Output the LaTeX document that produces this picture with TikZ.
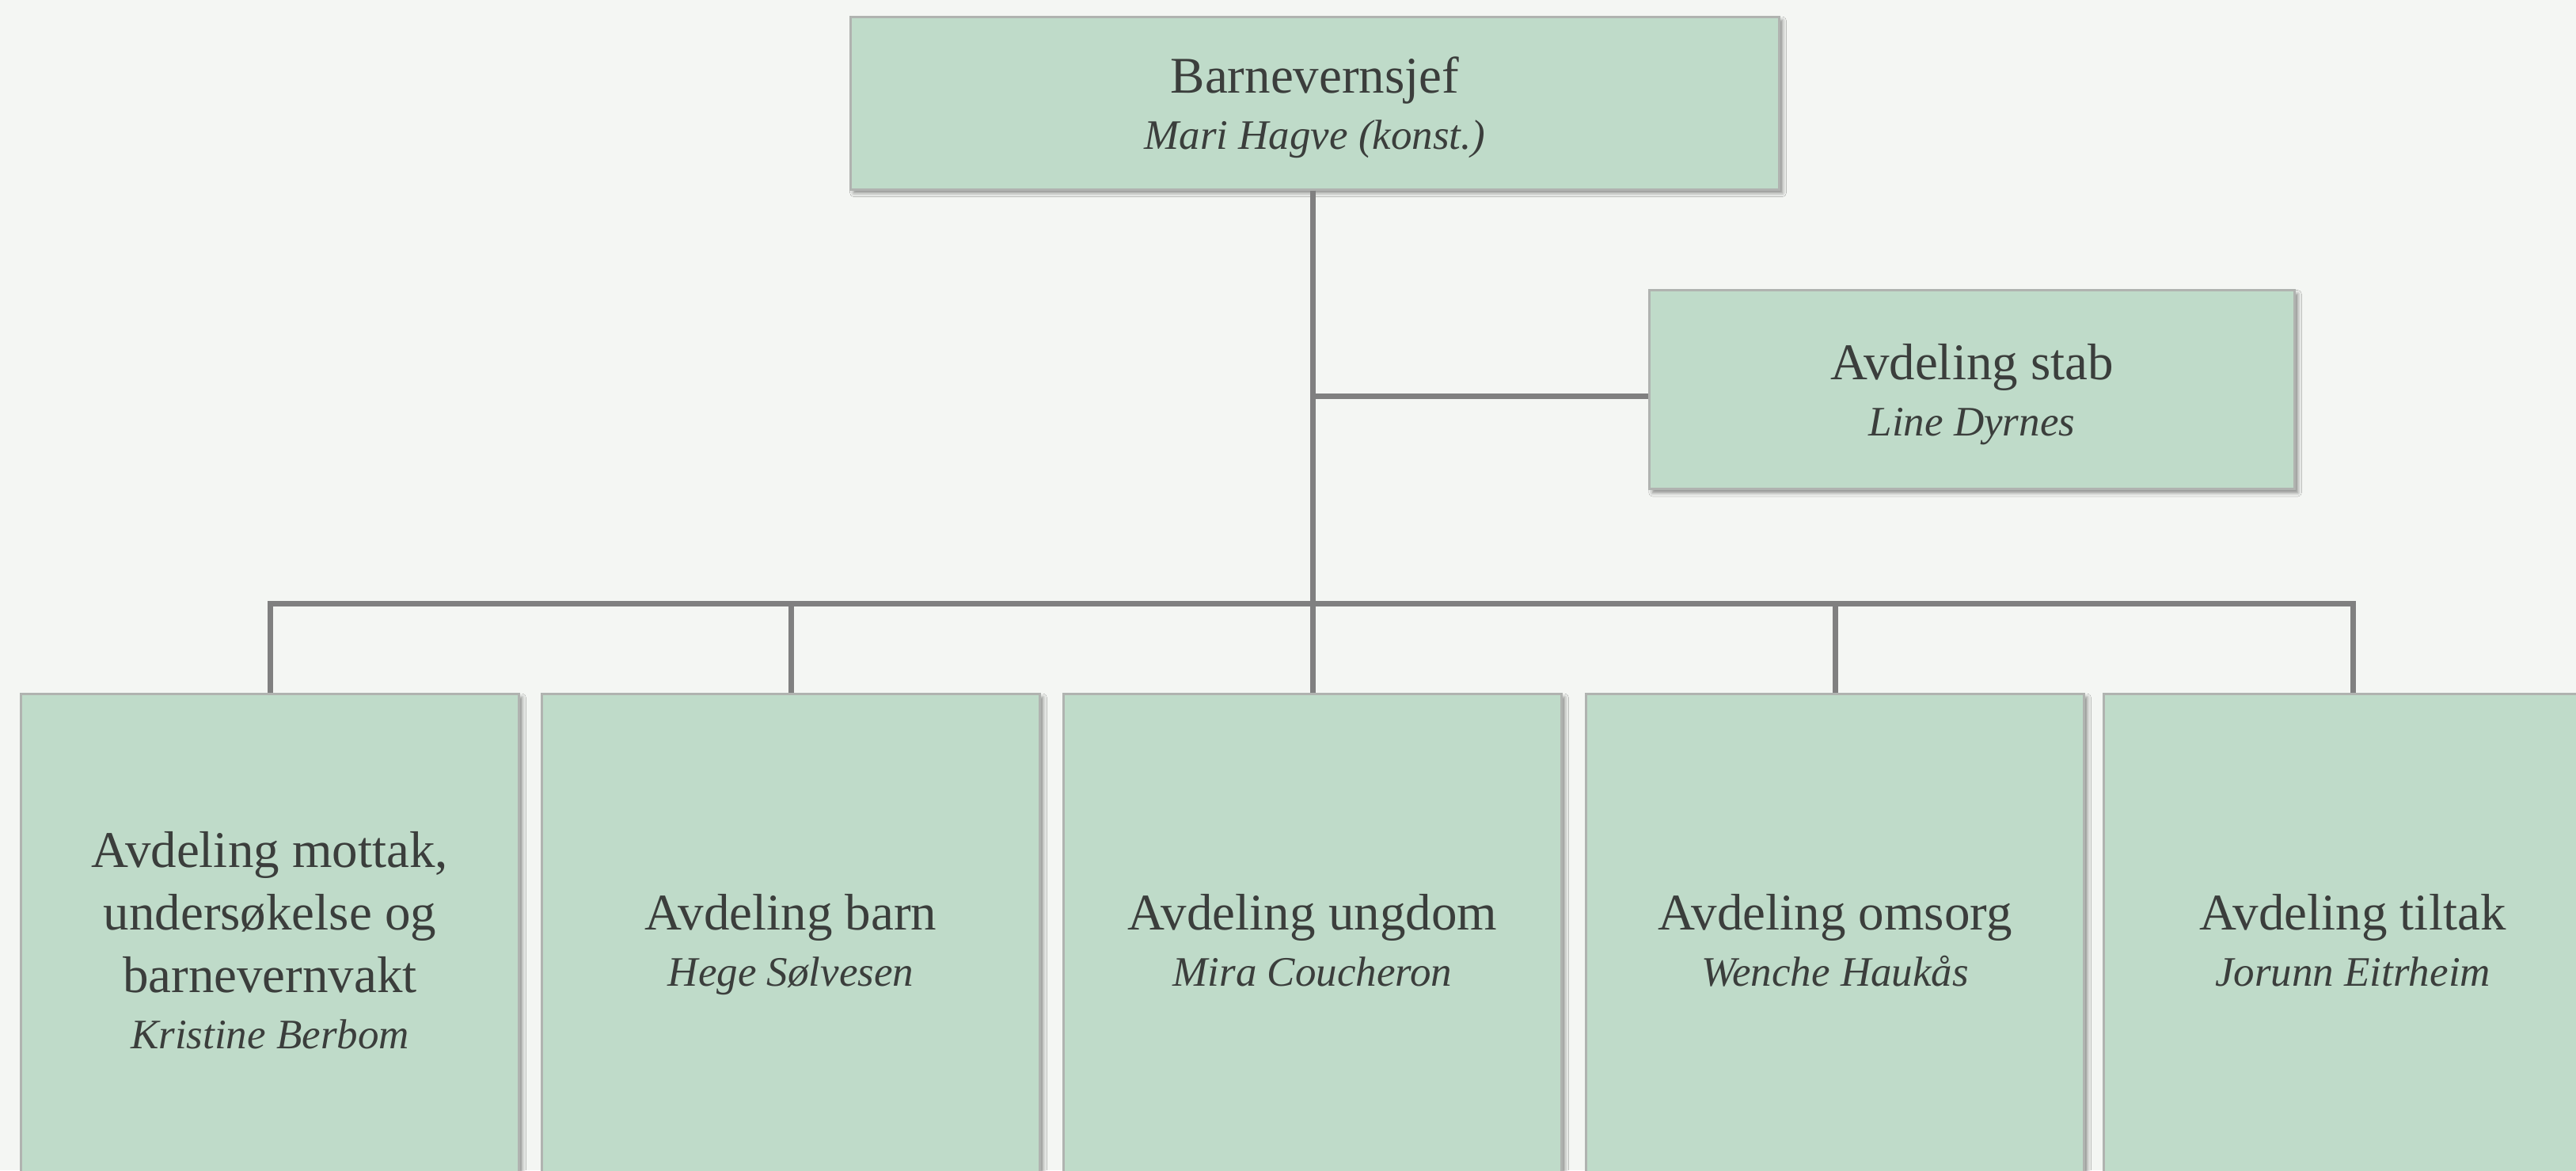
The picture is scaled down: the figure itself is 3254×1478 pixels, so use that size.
\documentclass[tikz,border=0pt]{standalone}
\usepackage{fontspec}
\setmainfont{Liberation Serif}
\usetikzlibrary{shadows.blur}
\definecolor{bgcol}{HTML}{F4F6F3}
\definecolor{boxfill}{HTML}{BFDBC9}
\definecolor{boxborder}{HTML}{B0B3B0}
\definecolor{linecol}{HTML}{808080}
\definecolor{textcol}{HTML}{3B3E3C}
\newcommand{\mainfnt}{\fontsize{16.25}{19.75}\selectfont}
\newcommand{\namefnt}{\fontsize{13.25}{16}\selectfont\itshape}
\newcommand{\nm}[1]{\raisebox{0pt}[\height][0pt]{\namefnt #1}}
\tikzset{
  orgbox/.style={draw=boxborder, line width=0.75pt, fill=boxfill, text=textcol,
    align=center, inner sep=0pt, font=\mainfnt,
    blur shadow={shadow xshift=1pt, shadow yshift=-1.2pt, shadow blur radius=1.2pt, shadow opacity=45}},
  conn/.style={draw=linecol, line width=1.75pt}
}
\begin{document}
\begin{tikzpicture}[x=0.25pt,y=-0.25pt]
\fill[bgcol] (0,0) rectangle (3254,1478);
\useasboundingbox (0,0) rectangle (3254,1478);
\clip (0,0) rectangle (3254,1478);
% nodes
\node[orgbox, minimum width=293.25pt, minimum height=54.5pt] (top) at (1661,130)
  {Barnevernsjef\\[-2pt]\nm{Mari Hagve (konst.)}};
\node[orgbox, minimum width=203.75pt, minimum height=62.75pt] (stab) at (2491,492)
  {Avdeling stab\\[-2pt]\nm{Line Dyrnes}};
\tikzset{lowbox/.style={orgbox, minimum width=157.25pt, minimum height=155.5pt}}
\node[lowbox] (b1) at (341,1187)
  {Avdeling mottak,\\undersøkelse og\\barnevernvakt\\[-2pt]\nm{Kristine Berbom}};
\node[lowbox] (b2) at (999,1187)
  {Avdeling barn\\[-2pt]\nm{Hege Sølvesen}};
\node[lowbox] (b3) at (1658,1187)
  {Avdeling ungdom\\[-2pt]\nm{Mira Coucheron}};
\node[lowbox] (b4) at (2318,1187)
  {Avdeling omsorg\\[-2pt]\nm{Wenche Haukås}};
\node[lowbox] (b5) at (2972,1187)
  {Avdeling tiltak\\[-2pt]\nm{Jorunn Eitrheim}};
% connectors
\coordinate (bus) at (1658,762);
\coordinate (stabj) at (1658,500);
\draw[conn] (b3.north |- top.south) -- (b3.north);
\draw[conn] (stabj) -- (stabj -| stab.west);
\draw[conn] (b1.north) -- (b1.north |- bus) -- (b5.north |- bus) -- (b5.north);
\draw[conn] (b2.north) -- (b2.north |- bus);
\draw[conn] (b4.north) -- (b4.north |- bus);
\end{tikzpicture}
\end{document}
